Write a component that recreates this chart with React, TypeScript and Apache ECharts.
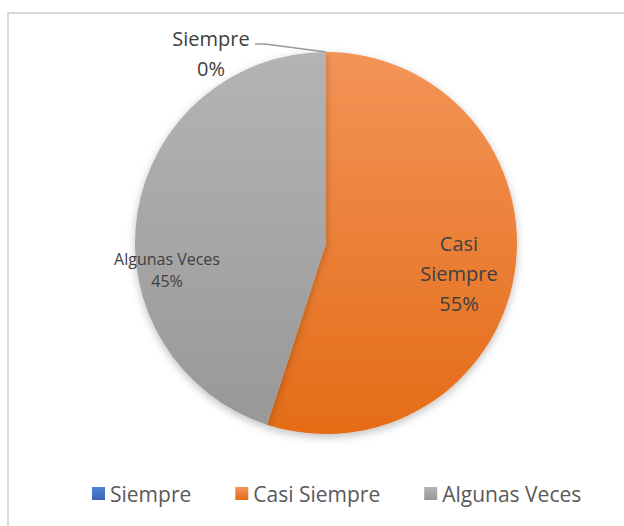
import React, { useEffect, useRef } from "react";
import * as echarts from "echarts";

const categories = ["Siempre", "Casi Siempre", "Algunas Veces"];
const values = [0, 55, 45];
const topColors = ["#5083D3", "#F39458", "#B4B4B4"];
const bottomColors = ["#3A66B5", "#E46C17", "#989898"];

const FONT = "'Open Sans', 'Noto Sans', sans-serif";

export default function App() {
  const ref = useRef<HTMLDivElement>(null);
  useEffect(() => {
    if (!ref.current) return;
    const chart = echarts.init(ref.current, undefined, { renderer: "svg" });
    const center = [326, 243];
    const radius = 191;
    const labelSpots: Record<number, { x: number; y: number }> = {
      0: { x: 211, y: 53 },
      1: { x: 459, y: 273 },
      2: { x: 167, y: 270 },
    };
    chart.setOption({
      animation: false,
      backgroundColor: "#ffffff",
      graphic: [
        {
          type: "rect",
          shape: { x: 8, y: 13, width: 700, height: 700 },
          style: { fill: "none", stroke: "#d9d9d9", lineWidth: 2 },
          silent: true,
        },
      ],
      legend: {
        data: categories,
        left: 87,
        top: 478,
        icon: "rect",
        itemWidth: 13,
        itemHeight: 13,
        itemGap: 44,
        textStyle: { fontFamily: FONT, fontSize: 21, color: "#595959" },
      },
      series: [
        {
          type: "pie",
          center,
          radius,
          startAngle: 90,
          clockwise: true,
          avoidLabelOverlap: false,
          itemStyle: {
            borderWidth: 0,
            shadowBlur: 8,
            shadowOffsetY: 3,
            shadowColor: "rgba(0,0,0,0.25)",
          },
          label: {
            fontFamily: FONT,
            fontSize: 20,
            lineHeight: 30,
            color: "#404040",
            align: "center",
            formatter: (p: any) =>
              (p.dataIndex === 1 ? p.name.replace(" ", "\n") : p.name) +
              "\n" +
              p.percent +
              "%",
          },
          labelLine: {
            show: true,
            lineStyle: { color: "#9A9A9A", width: 1.6 },
          },
          labelLayout: (params: any) => {
            const i = params.dataIndex;
            const s = labelSpots[i];
            const res: any = { x: s.x, y: s.y, align: "center", verticalAlign: "middle" };
            if (i === 0) {
              const anchor =
                params.labelLinePoints && params.labelLinePoints[0]
                  ? params.labelLinePoints[0]
                  : [center[0], center[1] - radius];
              res.labelLinePoints = [anchor, [265, 44], [255, 44]];
            }
            return res;
          },
          data: categories.map((name, i) => ({
            name,
            value: values[i],
            itemStyle: {
              color: new echarts.graphic.LinearGradient(0, 0, 0, 1, [
                { offset: 0, color: topColors[i] },
                { offset: 1, color: bottomColors[i] },
              ]),
            },
            label:
              i === 0
                ? { position: "outside" }
                : i === 2
                ? { position: "inside", fontSize: 16, lineHeight: 22 }
                : { position: "inside" },
            labelLine: { show: i === 0 },
          })),
        },
      ],
    });
    return () => chart.dispose();
  }, []);
  return (
    <div
      ref={ref}
      style={{ position: "fixed", left: 0, top: 0, width: 624, height: 526 }}
    />
  );
}
